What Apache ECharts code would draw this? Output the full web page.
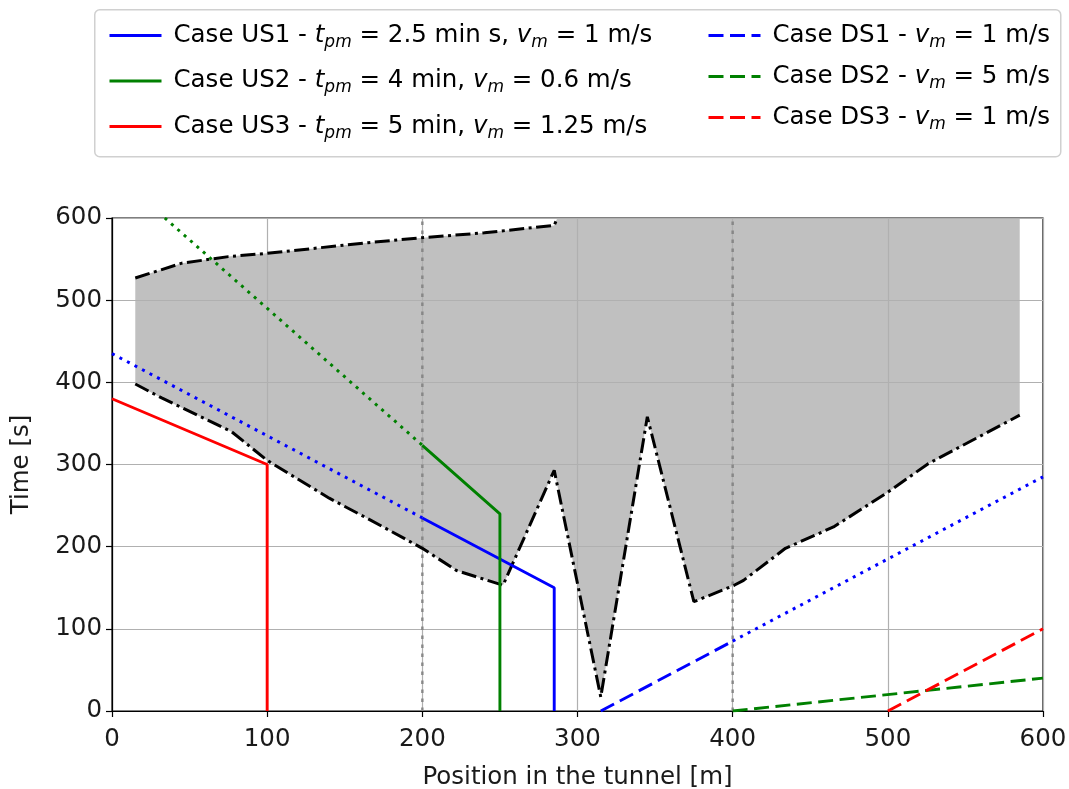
<!DOCTYPE html>
<html>
<head>
<meta charset="utf-8">
<script src="https://cdn.jsdelivr.net/npm/echarts@6/dist/echarts.min.js"></script>
<style>html,body{margin:0;padding:0;background:#fff;}#c{width:1069px;height:789px;}</style>
</head>
<body>
<div id="c"></div>
<script>
// ---- data ----
var xTicks = [0, 100, 200, 300, 400, 500, 600];
var yTicks = [0, 100, 200, 300, 400, 500, 600];
// boundaries of the gray zone (position m, time s)
var zoneUpper = [[15,527],[45,545],[75,553],[100,557],[130,563],[165,570],[200,576],[240,582],[285,591],[287,600]];
var zoneLower = [[15,398],[32,381],[77,340],[100,305],[140,259],[165,234],[200,198],[222,171],[252,153],[285,293],[315,17],[345,358],[375,133],[401,153],[407,159],[434,198],[465,224],[499,265],[526,301],[585,360]];
var zoneRightX = 585;
var zoneTopT = 600;
// upstream cases
var us1Solid = [[200,235],[285,150],[285,0]];
var us1Dotted = [[0,435],[200,235]];
var us2Solid = [[200,323.3],[250,240],[250,0]];
var us2Dotted = [[34,600],[200,323.3]];
var us3Solid = [[0,380],[100,300],[100,0]];
// downstream cases
var ds1Dashed = [[315,0],[400,85]];
var ds1Dotted = [[400,85],[600,285]];
var ds2Dashed = [[400,0],[600,40]];
var ds3Dashed = [[500,0],[600,100]];
// vertical reference lines
var refLinesX = [200, 400];
// legend labels
var legendUS = ['Case US1', 'Case US2', 'Case US3'];
var legendDS = ['Case DS1', 'Case DS2', 'Case DS3'];
var legendRich = {
  'Case US1': '{a|Case US1 - }{i|t}{s|pm}{a| = 2.5 min s, }{i|v}{s|m}{a| = 1 m/s}',
  'Case US2': '{a|Case US2 - }{i|t}{s|pm}{a| = 4 min, }{i|v}{s|m}{a| = 0.6 m/s}',
  'Case US3': '{a|Case US3 - }{i|t}{s|pm}{a| = 5 min, }{i|v}{s|m}{a| = 1.25 m/s}',
  'Case DS1': '{a|Case DS1 - }{i|v}{s|m}{a| = 1 m/s}',
  'Case DS2': '{a|Case DS2 - }{i|v}{s|m}{a| = 5 m/s}',
  'Case DS3': '{a|Case DS3 - }{i|v}{s|m}{a| = 1 m/s}'
};

var FONT = 'DejaVu Sans';
var FS = 24.5;
var DOT = [3, 5.5];
var DASH = [15, 6.5];
var DASHDOT = [15, 4.5, 3, 4.5];
var BLUE = '#0000ff', GREEN = '#008000', RED = '#ff0000';

var chart = echarts.init(document.getElementById('c'), null, {renderer: 'canvas'});

function lineSeries(name, data, color, type, width) {
  return {
    name: name, type: 'line', data: data, symbol: 'none', silent: true,
    animation: false, z: 3,
    itemStyle: {color: color},
    lineStyle: {color: color, width: width || 2.9, type: type, cap: 'butt'}
  };
}

var richStyles = {
  a: {fontSize: FS, fontFamily: FONT, color: '#000', lineHeight: 32},
  i: {fontSize: FS, fontFamily: FONT, fontStyle: 'italic', color: '#000', lineHeight: 32},
  s: {fontSize: 17, fontFamily: FONT, fontStyle: 'italic', color: '#000', padding: [14, 0, 0, 0], lineHeight: 32}
};

var refSeries = refLinesX.map(function (x, k) {
  return {
    name: 'ref' + k, type: 'line', data: [[x, 0], [x, 600]], symbol: 'none', silent: true,
    animation: false, z: 2,
    lineStyle: {color: 'rgba(128,128,128,0.85)', width: 2.5, type: [3.5, 5.5]}
  };
});

function legendCfg(data, left, gap) {
  return {
    data: data, orient: 'vertical', left: left, top: 15,
    itemWidth: 52, itemHeight: 14, itemGap: gap,
    formatter: function (n) { return legendRich[n]; },
    textStyle: {rich: richStyles, padding: [0, 0, 0, 7]},
    itemStyle: {opacity: 0},
    lineStyle: {width: 3},
    selectedMode: false, z: 5
  };
}

var option = {
  animation: false,
  backgroundColor: '#fff',
  graphic: [{
    type: 'rect', left: 94, top: 9, z: 0,
    shape: {width: 966, height: 147, r: 5},
    style: {fill: '#fff', stroke: '#d0d0d0', lineWidth: 1.5}
  }],
  legend: [legendCfg(legendUS, 103, 14.5), legendCfg(legendDS, 702, 10)],
  grid: {left: 112, right: 26, top: 218, bottom: 78, outerBoundsMode: 'none', containLabel: false,
         show: true, borderColor: '#000', borderWidth: 1.2, backgroundColor: 'transparent'},
  xAxis: {
    type: 'value', min: xTicks[0], max: xTicks[xTicks.length - 1], interval: 100,
    name: 'Position in the tunnel [m]', nameLocation: 'middle', nameGap: 54,
    nameTextStyle: {fontSize: FS, fontFamily: FONT, color: '#1a1a1a'},
    axisLine: {show: true, lineStyle: {color: '#000', width: 1.2}},
    axisTick: {show: true, inside: false, length: 6, lineStyle: {color: '#000', width: 1.2}},
    axisLabel: {fontSize: FS, fontFamily: FONT, color: '#1a1a1a', margin: 16},
    splitLine: {show: true, lineStyle: {color: '#b0b0b0', width: 1.2}}
  },
  yAxis: {
    type: 'value', min: yTicks[0], max: yTicks[yTicks.length - 1], interval: 100,
    name: 'Time [s]', nameLocation: 'middle', nameGap: 78, nameRotate: 90,
    nameTextStyle: {fontSize: FS, fontFamily: FONT, color: '#1a1a1a'},
    axisLine: {show: true, lineStyle: {color: '#000', width: 1.2}},
    axisTick: {show: true, inside: false, length: 6, lineStyle: {color: '#000', width: 1.2}},
    axisLabel: {fontSize: FS, fontFamily: FONT, color: '#1a1a1a', margin: 10},
    splitLine: {show: true, lineStyle: {color: '#b0b0b0', width: 1.2}}
  },
  series: [
    {
      name: 'zone', type: 'custom', z: -1, silent: true, animation: false,
      data: [0],
      renderItem: function (params, api) {
        var pts = [];
        zoneUpper.forEach(function (p) { pts.push(api.coord(p)); });
        pts.push(api.coord([zoneRightX, zoneTopT]));
        for (var i = zoneLower.length - 1; i >= 0; i--) pts.push(api.coord(zoneLower[i]));
        return {type: 'polygon', shape: {points: pts}, style: {fill: '#c0c0c0', stroke: null}};
      }
    },
    lineSeries('upper', zoneUpper, '#000', DASHDOT, 3),
    lineSeries('lower', zoneLower, '#000', DASHDOT, 3),
    refSeries[0], refSeries[1],
    lineSeries('Case US1', us1Solid, BLUE, 'solid'),
    lineSeries('us1dot', us1Dotted, BLUE, DOT, 3),
    lineSeries('Case US2', us2Solid, GREEN, 'solid'),
    lineSeries('us2dot', us2Dotted, GREEN, DOT, 3),
    lineSeries('Case US3', us3Solid, RED, 'solid'),
    lineSeries('Case DS1', ds1Dashed, BLUE, DASH),
    lineSeries('ds1dot', ds1Dotted, BLUE, DOT, 3),
    lineSeries('Case DS2', ds2Dashed, GREEN, DASH),
    lineSeries('Case DS3', ds3Dashed, RED, DASH)
  ]
};
chart.setOption(option);
</script>
</body>
</html>
